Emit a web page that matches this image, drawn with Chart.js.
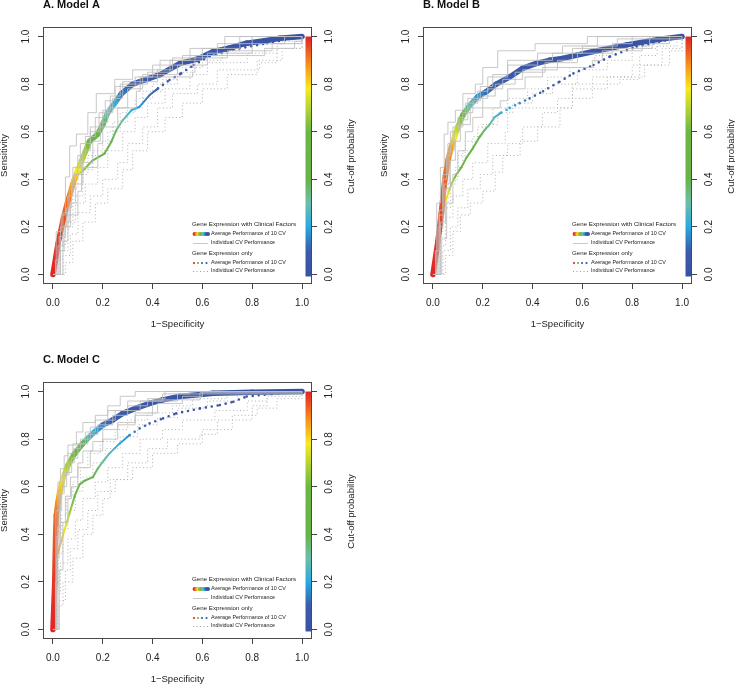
<!DOCTYPE html>
<html>
<head>
<meta charset="utf-8">
<script src="https://cdn.jsdelivr.net/npm/chart.js@4.4.1/dist/chart.umd.min.js"></script>
<style>
  html, body { margin: 0; padding: 0; background: #fff; }
  body { position: relative; width: 735px; height: 684px; overflow: hidden; }
  .panel { position: absolute; }
</style>
</head>
<body>
<div class="panel" style="left:0;top:0"><canvas id="chartA" width="365" height="340"></canvas></div>
<div class="panel" style="left:380px;top:0"><canvas id="chartB" width="365" height="340"></canvas></div>
<div class="panel" style="left:0;top:355px"><canvas id="chartC" width="365" height="340"></canvas></div>
<script>
// tick labels
const xTicks = [0, 0.2, 0.4, 0.6, 0.8, 1.0];
const yTicks = [0, 0.2, 0.4, 0.6, 0.8, 1.0];
const cutTicks = [0, 0.2, 0.4, 0.6, 0.8, 1.0];

// ---- Model A ----
const clinFprA = [0, 0.02, 0.04, 0.06, 0.08, 0.10, 0.12, 0.147, 0.18, 0.20, 0.22, 0.248, 0.275, 0.32, 0.375, 0.43, 0.51, 0.58, 0.644, 0.71, 0.778, 0.85, 0.912, 1.0];
const clinTprA = [0, 0.128, 0.227, 0.31, 0.38, 0.44, 0.49, 0.56, 0.59, 0.63, 0.68, 0.72, 0.76, 0.80, 0.82, 0.84, 0.887, 0.905, 0.937, 0.952, 0.972, 0.982, 0.993, 1.0];
const clinCutA = [1.0, 0.98, 0.95, 0.92, 0.86, 0.78, 0.7, 0.58, 0.47, 0.38, 0.3, 0.22, 0.14, 0.1, 0.08, 0.06, 0.05, 0.04, 0.03, 0.02, 0.015, 0.01, 0.005, 0];
const geneFprA = [0, 0.027, 0.054, 0.074, 0.094, 0.12, 0.16, 0.207, 0.234, 0.254, 0.28, 0.315, 0.348, 0.388, 0.422, 0.468, 0.515, 0.565, 0.63, 0.725, 0.86, 1.0];
const geneTprA = [0, 0.14, 0.28, 0.367, 0.416, 0.437, 0.48, 0.508, 0.557, 0.606, 0.648, 0.69, 0.705, 0.754, 0.782, 0.817, 0.845, 0.88, 0.918, 0.945, 0.972, 1.0];
const geneCutA = [1.0, 0.97, 0.93, 0.87, 0.78, 0.65, 0.55, 0.48, 0.42, 0.36, 0.3, 0.22, 0.18, 0.13, 0.1, 0.08, 0.06, 0.05, 0.04, 0.03, 0.01, 0];
const cvClinA = [
  [[0,0],[0.013,0.18],[0.033,0.25],[0.05,0.41],[0.067,0.54],[0.094,0.59],[0.14,0.68],[0.174,0.76],[0.248,0.82],[0.32,0.86],[0.43,0.90],[0.55,0.95],[0.69,1.0],[1,1]],
  [[0,0],[0.02,0.12],[0.04,0.26],[0.06,0.33],[0.08,0.45],[0.11,0.55],[0.15,0.62],[0.2,0.69],[0.23,0.75],[0.27,0.8],[0.38,0.85],[0.47,0.9],[0.6,0.95],[0.75,1.0],[1,1]],
  [[0,0],[0.03,0.1],[0.045,0.2],[0.07,0.3],[0.09,0.38],[0.12,0.47],[0.16,0.56],[0.19,0.64],[0.22,0.7],[0.3,0.78],[0.36,0.84],[0.5,0.88],[0.62,0.93],[0.8,0.97],[0.93,1.0],[1,1]],
  [[0,0],[0.04,0.14],[0.06,0.25],[0.1,0.35],[0.115,0.45],[0.18,0.55],[0.2,0.62],[0.26,0.7],[0.335,0.77],[0.35,0.83],[0.56,0.85],[0.57,0.92],[0.85,0.95],[0.97,0.98],[1,1]],
  [[0,0],[0.01,0.06],[0.03,0.2],[0.055,0.28],[0.075,0.4],[0.1,0.5],[0.13,0.58],[0.17,0.66],[0.21,0.73],[0.25,0.79],[0.33,0.83],[0.4,0.88],[0.52,0.92],[0.66,0.97],[0.8,1.0],[1,1]],
  [[0,0],[0.025,0.16],[0.05,0.22],[0.065,0.36],[0.085,0.42],[0.12,0.52],[0.15,0.6],[0.185,0.68],[0.24,0.74],[0.28,0.81],[0.42,0.86],[0.48,0.91],[0.7,0.94],[0.88,0.97],[1,1]]
];
const cvGeneA = [
  [[0,0],[0.02,0.15],[0.04,0.25],[0.07,0.36],[0.1,0.42],[0.14,0.5],[0.2,0.56],[0.24,0.64],[0.3,0.7],[0.36,0.77],[0.44,0.82],[0.5,0.87],[0.6,0.92],[0.7,0.96],[0.8,1.0],[1,1]],
  [[0,0],[0.03,0.1],[0.06,0.22],[0.09,0.3],[0.13,0.38],[0.18,0.45],[0.22,0.52],[0.28,0.6],[0.33,0.66],[0.38,0.72],[0.45,0.78],[0.55,0.84],[0.62,0.89],[0.78,0.93],[0.9,0.97],[1,1]],
  [[0,0],[0.04,0.08],[0.07,0.17],[0.1,0.26],[0.15,0.33],[0.2,0.4],[0.26,0.47],[0.3,0.55],[0.36,0.62],[0.42,0.7],[0.48,0.76],[0.58,0.8],[0.66,0.86],[0.83,0.89],[0.9,0.95],[1,1]],
  [[0,0],[0.015,0.12],[0.05,0.2],[0.08,0.33],[0.12,0.44],[0.16,0.52],[0.22,0.6],[0.27,0.68],[0.33,0.74],[0.4,0.8],[0.5,0.85],[0.56,0.9],[0.68,0.94],[0.75,0.98],[1,1]],
  [[0,0],[0.05,0.05],[0.08,0.14],[0.12,0.22],[0.17,0.3],[0.22,0.36],[0.28,0.44],[0.32,0.52],[0.38,0.6],[0.45,0.66],[0.52,0.72],[0.6,0.78],[0.7,0.84],[0.82,0.9],[0.92,0.95],[1,1]]
];

// ---- Model B ----
const clinFprB = [0, 0.02, 0.033, 0.047, 0.06, 0.074, 0.087, 0.10, 0.12, 0.147, 0.18, 0.214, 0.254, 0.308, 0.36, 0.415, 0.468, 0.52, 0.644, 0.778, 0.912, 1.0];
const clinTprB = [0, 0.14, 0.254, 0.395, 0.479, 0.536, 0.578, 0.62, 0.67, 0.71, 0.747, 0.768, 0.80, 0.83, 0.866, 0.887, 0.90, 0.908, 0.937, 0.965, 0.989, 1.0];
const clinCutB = [1.0, 0.98, 0.96, 0.93, 0.9, 0.86, 0.78, 0.7, 0.55, 0.3, 0.18, 0.12, 0.1, 0.08, 0.06, 0.05, 0.04, 0.035, 0.025, 0.015, 0.005, 0];
const geneFprB = [0, 0.02, 0.033, 0.047, 0.06, 0.074, 0.094, 0.114, 0.134, 0.16, 0.187, 0.207, 0.227, 0.247, 0.274, 0.308, 0.348, 0.388, 0.442, 0.508, 0.564, 0.644, 0.711, 0.818, 0.885, 1.0];
const geneTprB = [0, 0.128, 0.226, 0.296, 0.338, 0.38, 0.42, 0.45, 0.49, 0.53, 0.578, 0.606, 0.63, 0.66, 0.68, 0.70, 0.72, 0.74, 0.77, 0.81, 0.845, 0.88, 0.916, 0.958, 0.972, 1.0];
const geneCutB = [1.0, 0.95, 0.88, 0.8, 0.76, 0.7, 0.6, 0.55, 0.5, 0.45, 0.4, 0.36, 0.32, 0.27, 0.22, 0.19, 0.16, 0.12, 0.1, 0.08, 0.07, 0.05, 0.04, 0.02, 0.01, 0];
const cvClinB = [
  [[0,0],[0.015,0.3],[0.03,0.45],[0.045,0.59],[0.06,0.64],[0.09,0.69],[0.12,0.76],[0.17,0.8],[0.2,0.87],[0.26,0.94],[0.41,0.97],[0.62,1.0],[1,1]],
  [[0,0],[0.02,0.2],[0.04,0.4],[0.055,0.5],[0.07,0.6],[0.1,0.66],[0.13,0.72],[0.18,0.77],[0.22,0.83],[0.3,0.88],[0.42,0.93],[0.52,0.96],[0.66,1.0],[1,1]],
  [[0,0],[0.03,0.22],[0.05,0.36],[0.07,0.48],[0.09,0.56],[0.11,0.63],[0.15,0.7],[0.2,0.75],[0.25,0.8],[0.33,0.85],[0.45,0.89],[0.58,0.93],[0.72,0.97],[0.8,1.0],[1,1]],
  [[0,0],[0.035,0.15],[0.055,0.3],[0.08,0.42],[0.1,0.52],[0.13,0.6],[0.16,0.66],[0.2,0.7],[0.27,0.73],[0.3,0.78],[0.37,0.83],[0.44,0.87],[0.64,0.9],[0.68,0.94],[0.84,0.96],[0.87,1.0],[1,1]],
  [[0,0],[0.01,0.1],[0.025,0.27],[0.04,0.42],[0.06,0.55],[0.08,0.62],[0.12,0.68],[0.16,0.73],[0.19,0.79],[0.24,0.84],[0.3,0.9],[0.48,0.93],[0.6,0.96],[0.74,0.99],[1,1]],
  [[0,0],[0.025,0.25],[0.045,0.38],[0.065,0.52],[0.085,0.6],[0.105,0.65],[0.14,0.74],[0.22,0.78],[0.28,0.82],[0.36,0.86],[0.5,0.9],[0.56,0.95],[0.88,0.97],[0.95,1.0],[1,1]]
];
const cvGeneB = [
  [[0,0],[0.02,0.18],[0.04,0.3],[0.06,0.38],[0.09,0.45],[0.12,0.52],[0.16,0.58],[0.2,0.63],[0.26,0.68],[0.32,0.72],[0.4,0.76],[0.48,0.8],[0.58,0.86],[0.7,0.9],[0.8,0.95],[0.9,1.0],[1,1]],
  [[0,0],[0.03,0.12],[0.05,0.24],[0.08,0.33],[0.12,0.4],[0.16,0.47],[0.22,0.55],[0.29,0.6],[0.3,0.7],[0.56,0.7],[0.56,0.8],[0.75,0.82],[0.83,0.92],[0.9,0.96],[0.98,1.0],[1,1]],
  [[0,0],[0.04,0.1],[0.07,0.2],[0.1,0.28],[0.14,0.36],[0.19,0.42],[0.24,0.5],[0.3,0.55],[0.36,0.62],[0.44,0.68],[0.5,0.74],[0.64,0.83],[0.8,0.88],[0.92,0.95],[1,1]],
  [[0,0],[0.015,0.15],[0.035,0.28],[0.07,0.4],[0.1,0.5],[0.13,0.56],[0.18,0.62],[0.24,0.7],[0.3,0.74],[0.38,0.78],[0.46,0.83],[0.55,0.87],[0.65,0.92],[0.72,0.96],[0.86,1.0],[1,1]],
  [[0,0],[0.05,0.08],[0.08,0.18],[0.11,0.25],[0.15,0.3],[0.2,0.35],[0.25,0.43],[0.28,0.5],[0.35,0.56],[0.42,0.62],[0.51,0.7],[0.56,0.78],[0.7,0.83],[0.85,0.88],[0.95,0.94],[1,1]]
];

// ---- Model C ----
const clinFprC = [0, 0.007, 0.011, 0.0134, 0.02, 0.027, 0.04, 0.06, 0.087, 0.12, 0.16, 0.2, 0.24, 0.28, 0.335, 0.388, 0.44, 0.508, 0.644, 0.8, 1.0];
const clinTprC = [0, 0.197, 0.41, 0.48, 0.536, 0.578, 0.635, 0.69, 0.74, 0.782, 0.824, 0.859, 0.88, 0.908, 0.93, 0.95, 0.965, 0.979, 0.993, 0.997, 1.0];
const clinCutC = [1.0, 0.98, 0.94, 0.92, 0.88, 0.83, 0.77, 0.68, 0.55, 0.38, 0.22, 0.14, 0.1, 0.08, 0.07, 0.05, 0.04, 0.03, 0.02, 0.01, 0];
const geneFprC = [0, 0.011, 0.016, 0.027, 0.047, 0.067, 0.087, 0.107, 0.127, 0.16, 0.18, 0.2, 0.227, 0.268, 0.308, 0.348, 0.388, 0.442, 0.495, 0.59, 0.67, 0.724, 0.778, 0.88, 1.0];
const geneTprC = [0, 0.2, 0.31, 0.35, 0.42, 0.49, 0.56, 0.61, 0.625, 0.64, 0.676, 0.705, 0.74, 0.782, 0.817, 0.845, 0.866, 0.887, 0.908, 0.929, 0.943, 0.957, 0.979, 0.99, 1.0];
const geneCutC = [1.0, 0.95, 0.9, 0.84, 0.77, 0.68, 0.58, 0.5, 0.47, 0.42, 0.36, 0.32, 0.27, 0.2, 0.16, 0.12, 0.1, 0.08, 0.06, 0.05, 0.04, 0.03, 0.02, 0.01, 0];
const cvClinC = [
  [[0,0],[0.013,0.39],[0.02,0.62],[0.03,0.676],[0.045,0.73],[0.06,0.775],[0.094,0.83],[0.12,0.87],[0.17,0.9],[0.22,0.94],[0.27,0.98],[0.33,1.0],[1,1]],
  [[0,0],[0.015,0.3],[0.025,0.5],[0.035,0.6],[0.055,0.66],[0.075,0.72],[0.1,0.78],[0.14,0.82],[0.18,0.86],[0.24,0.9],[0.3,0.94],[0.38,0.97],[0.45,1.0],[1,1]],
  [[0,0],[0.02,0.35],[0.03,0.45],[0.05,0.56],[0.07,0.64],[0.1,0.7],[0.12,0.75],[0.16,0.79],[0.2,0.84],[0.26,0.87],[0.33,0.91],[0.42,0.95],[0.52,0.98],[0.6,1.0],[1,1]],
  [[0,0],[0.025,0.25],[0.04,0.45],[0.06,0.55],[0.074,0.6],[0.1,0.68],[0.15,0.75],[0.2,0.8],[0.26,0.86],[0.33,0.9],[0.4,0.916],[0.4,0.965],[0.59,0.965],[0.59,0.995],[1,1]],
  [[0,0],[0.01,0.2],[0.018,0.43],[0.03,0.57],[0.045,0.65],[0.065,0.7],[0.085,0.76],[0.11,0.8],[0.15,0.85],[0.21,0.88],[0.25,0.92],[0.35,0.96],[0.5,0.99],[1,1]],
  [[0,0],[0.012,0.5],[0.025,0.58],[0.04,0.66],[0.06,0.74],[0.08,0.78],[0.13,0.83],[0.17,0.88],[0.22,0.92],[0.3,0.96],[0.44,0.99],[0.55,1.0],[1,1]]
];
const cvGeneC = [
  [[0,0],[0.01,0.2],[0.02,0.32],[0.04,0.42],[0.06,0.5],[0.09,0.58],[0.12,0.64],[0.16,0.7],[0.21,0.76],[0.27,0.81],[0.34,0.86],[0.42,0.89],[0.5,0.93],[0.62,0.96],[0.74,0.99],[1,1]],
  [[0,0],[0.015,0.15],[0.03,0.28],[0.06,0.38],[0.09,0.46],[0.12,0.55],[0.17,0.62],[0.22,0.68],[0.28,0.74],[0.35,0.8],[0.44,0.84],[0.52,0.88],[0.65,0.92],[0.78,0.96],[0.86,0.99],[1,1]],
  [[0,0],[0.02,0.1],[0.04,0.2],[0.08,0.3],[0.12,0.4],[0.16,0.48],[0.2,0.55],[0.23,0.63],[0.3,0.7],[0.38,0.76],[0.46,0.8],[0.59,0.82],[0.66,0.88],[0.8,0.94],[0.86,0.98],[1,1]],
  [[0,0],[0.008,0.28],[0.018,0.4],[0.035,0.48],[0.055,0.56],[0.08,0.62],[0.11,0.68],[0.14,0.74],[0.19,0.79],[0.25,0.84],[0.3,0.88],[0.38,0.91],[0.48,0.94],[0.56,0.97],[0.7,1.0],[1,1]],
  [[0,0],[0.025,0.12],[0.05,0.25],[0.07,0.34],[0.1,0.42],[0.14,0.5],[0.18,0.58],[0.25,0.63],[0.32,0.68],[0.4,0.74],[0.5,0.78],[0.6,0.84],[0.72,0.9],[0.82,0.93],[0.9,0.97],[1,1]]
];

// colour ramp of the cut-off probability (blue -> cyan -> green -> yellow -> red)
const rampStops = [
  [0.00, 57, 83, 164],
  [0.10, 58, 92, 170],
  [0.20, 40, 170, 226],
  [0.30, 110, 190, 168],
  [0.40, 104, 180, 72],
  [0.60, 108, 182, 68],
  [0.70, 182, 212, 50],
  [0.78, 246, 234, 30],
  [0.88, 246, 146, 30],
  [1.00, 226, 35, 38]
];

function ramp(v) {
  v = Math.max(0, Math.min(1, v));
  for (let i = 0; i < rampStops.length - 1; i++) {
    const a = rampStops[i], b = rampStops[i + 1];
    if (v <= b[0]) {
      const t = (v - a[0]) / (b[0] - a[0]);
      const c = [1, 2, 3].map(k => Math.round(a[k] + (b[k] - a[k]) * t));
      return `rgb(${c[0]},${c[1]},${c[2]})`;
    }
  }
  const l = rampStops[rampStops.length - 1];
  return `rgb(${l[1]},${l[2]},${l[3]})`;
}

function toXY(xs, ys) {
  return xs.map((x, i) => ({ x: x, y: ys[i] }));
}

function segGrad(c, cuts) {
  const g = c.chart.ctx.createLinearGradient(c.p0.x, c.p0.y, c.p1.x + 0.01, c.p1.y + 0.01);
  g.addColorStop(0, ramp(cuts[c.p0DataIndex]));
  g.addColorStop(1, ramp(cuts[c.p1DataIndex]));
  return g;
}

const FONT = '"Liberation Sans", Arial, Helvetica, sans-serif';
Chart.defaults.font.family = FONT;

function decorPlugin(title) {
  return {
    id: 'decor',
    beforeDatasetsDraw(chart) {
      const { ctx, chartArea: a, scales: { y } } = chart;
      const top = y.getPixelForValue(1), bot = y.getPixelForValue(0);
      const g = ctx.createLinearGradient(0, bot, 0, top);
      rampStops.forEach(s => g.addColorStop(s[0], `rgb(${s[1]},${s[2]},${s[3]})`));
      ctx.save();
      ctx.fillStyle = g;
      ctx.fillRect(a.right - 6.5, top, 5.5, bot - top + 2);
      ctx.restore();
    },
    afterDraw(chart) {
      const { ctx, chartArea: a, scales: { y, y2 } } = chart;
      ctx.save();
      // box
      ctx.strokeStyle = '#4a4a4a';
      ctx.lineWidth = 1;
      ctx.strokeRect(a.left + 0.5, a.top + 0.5, a.right - a.left - 1, a.bottom - a.top - 1);

      // rotated tick labels (left and right)
      ctx.fillStyle = '#222';
      ctx.font = `10px ${FONT}`;
      ctx.textAlign = 'center';
      ctx.textBaseline = 'middle';
      yTicks.forEach(v => {
        ctx.save();
        ctx.translate(a.left - 17, y.getPixelForValue(v));
        ctx.rotate(-Math.PI / 2);
        ctx.fillText(v.toFixed(1), 0, 0);
        ctx.restore();
      });
      cutTicks.forEach(v => {
        ctx.save();
        ctx.translate(a.right + 17, y2.getPixelForValue(v));
        ctx.rotate(-Math.PI / 2);
        ctx.fillText(v.toFixed(1), 0, 0);
        ctx.restore();
      });
      // right axis title
      ctx.save();
      ctx.font = `9.5px ${FONT}`;
      ctx.translate(a.right + 39, (a.top + a.bottom) / 2 + 1);
      ctx.rotate(-Math.PI / 2);
      ctx.fillText('Cut-off probability', 0, 0);
      ctx.restore();

      // panel title
      ctx.font = `bold 11px ${FONT}`;
      ctx.textAlign = 'left';
      ctx.fillStyle = '#111';
      ctx.fillText(title, a.left, 5);

      // legend
      const lx = a.right - 120, b = a.bottom;
      ctx.fillStyle = '#222';
      ctx.font = `6.2px ${FONT}`;
      ctx.fillText('Gene Expression with Clinical Factors', lx, b - 60);
      ctx.fillText('Gene Expression only', lx, b - 31);
      ctx.font = `5.4px ${FONT}`;
      ctx.fillText('Average Performance of 10 CV', a.right - 101, b - 50);
      ctx.fillText('Individual CV Performance', a.right - 101, b - 41);
      ctx.fillText('Average Performance of 10 CV', a.right - 101, b - 21);
      ctx.fillText('Individual CV Performance', a.right - 101, b - 13);
      const barCuts = [1.0, 0.9, 0.8, 0.65, 0.5, 0.3, 0.2, 0.1, 0.0];
      barCuts.forEach((v, i) => {
        ctx.fillStyle = ramp(v);
        ctx.beginPath();
        ctx.arc(a.right - 117.5 + i * 1.7, b - 50, 1.9, 0, Math.PI * 2);
        ctx.fill();
      });
      ctx.strokeStyle = '#c8c8c8';
      ctx.lineWidth = 1;
      ctx.beginPath();
      ctx.moveTo(a.right - 119, b - 40.5);
      ctx.lineTo(a.right - 104, b - 40.5);
      ctx.stroke();
      [[1.0, -118], [0.5, -114], [0.1, -110], [0.0, -105.5]].forEach(d => {
        ctx.fillStyle = ramp(d[0]);
        ctx.beginPath();
        ctx.arc(a.right + d[1], b - 21, 1.1, 0, Math.PI * 2);
        ctx.fill();
      });
      ctx.strokeStyle = '#9a9a9a';
      ctx.setLineDash([1, 2.5]);
      ctx.beginPath();
      ctx.moveTo(a.right - 119, b - 12.5);
      ctx.lineTo(a.right - 104, b - 12.5);
      ctx.stroke();
      ctx.restore();
    }
  };
}

function makePanel(id, title, d) {
  const datasets = [];
  d.cvGene.forEach(c => datasets.push({
    data: c.map(p => ({ x: p[0], y: p[1] })),
    borderColor: '#b0b0b0', borderWidth: 1, borderDash: [1, 2.5],
    stepped: 'before', pointRadius: 0, order: 5
  }));
  datasets.push({
    data: toXY(d.geneFpr, d.geneTpr),
    borderWidth: 2, borderCapStyle: 'round', borderJoinStyle: 'round',
    pointRadius: 0, order: 4,
    segment: {
      borderColor: c => segGrad(c, d.geneCut),
      borderDash: c => d.geneFpr[c.p0DataIndex] >= d.sparseFrom ? [0, 6] : undefined,
      borderWidth: c => d.geneFpr[c.p0DataIndex] >= d.sparseFrom ? 2.6 : undefined
    }
  });
  datasets.push({
    data: toXY(d.clinFpr, d.clinTpr),
    borderWidth: 5.5, borderCapStyle: 'round', borderJoinStyle: 'round',
    pointRadius: 0, order: 3,
    segment: { borderColor: c => segGrad(c, d.clinCut) }
  });
  d.cvClin.forEach(c => datasets.push({
    data: c.map(p => ({ x: p[0], y: p[1] })),
    borderColor: 'rgba(190,190,190,0.85)', borderWidth: 1,
    stepped: 'before', pointRadius: 0, order: 2
  }));

  const axisGrid = { drawOnChartArea: false, drawTicks: true, tickLength: 5, color: '#444' };
  return new Chart(document.getElementById(id), {
    type: 'line',
    data: { datasets: datasets },
    options: {
      responsive: false,
      animation: false,
      devicePixelRatio: 1,
      layout: { padding: { top: 27, left: 0, right: 0, bottom: 0 } },
      plugins: { legend: { display: false }, tooltip: { enabled: false } },
      scales: {
        x: {
          type: 'linear', min: -0.04, max: 1.04,
          afterBuildTicks: s => { s.ticks = xTicks.map(v => ({ value: v })); },
          afterFit: s => { s.height = 56; },
          grid: axisGrid, border: { display: false },
          ticks: { padding: 8, color: '#222', font: { size: 10 }, callback: v => v.toFixed(1), maxRotation: 0 },
          title: { display: true, text: '1−Specificity', color: '#222', font: { size: 9.5 }, padding: { top: 0, bottom: 10 } }
        },
        y: {
          type: 'linear', position: 'left', min: -0.04, max: 1.04,
          afterBuildTicks: s => { s.ticks = yTicks.map(v => ({ value: v })); },
          afterFit: s => { s.width = 43; },
          grid: axisGrid, border: { display: false },
          ticks: { display: false },
          title: { display: true, text: 'Sensitivity', color: '#222', font: { size: 9.5, lineHeight: 1 }, padding: { top: 0, bottom: 0 } }
        },
        y2: {
          type: 'linear', position: 'right', min: -0.04, max: 1.04,
          afterBuildTicks: s => { s.ticks = cutTicks.map(v => ({ value: v })); },
          afterFit: s => { s.width = 53; },
          grid: axisGrid, border: { display: false },
          ticks: { display: false }
        }
      }
    },
    plugins: [decorPlugin(title)]
  });
}

makePanel('chartA', 'A. Model A', {
  clinFpr: clinFprA, clinTpr: clinTprA, clinCut: clinCutA,
  geneFpr: geneFprA, geneTpr: geneTprA, geneCut: geneCutA,
  cvClin: cvClinA, cvGene: cvGeneA, sparseFrom: 0.39
});
makePanel('chartB', 'B. Model B', {
  clinFpr: clinFprB, clinTpr: clinTprB, clinCut: clinCutB,
  geneFpr: geneFprB, geneTpr: geneTprB, geneCut: geneCutB,
  cvClin: cvClinB, cvGene: cvGeneB, sparseFrom: 0.27
});
makePanel('chartC', 'C. Model C', {
  clinFpr: clinFprC, clinTpr: clinTprC, clinCut: clinCutC,
  geneFpr: geneFprC, geneTpr: geneTprC, geneCut: geneCutC,
  cvClin: cvClinC, cvGene: cvGeneC, sparseFrom: 0.28
});
</script>
</body>
</html>
